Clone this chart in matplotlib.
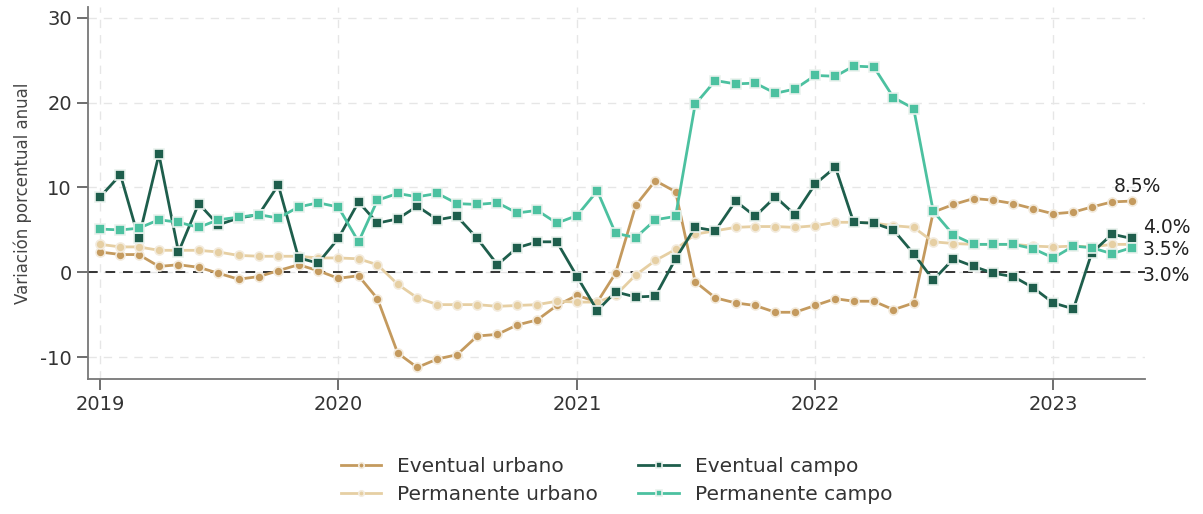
import numpy as np
import pandas as pd
import matplotlib
matplotlib.use("Agg")
import matplotlib.pyplot as plt

# =========================
# DATA (monthly, Jan 2019 - May 2023)
# =========================
fechas = pd.date_range("2019-01-01", "2023-05-01", freq="MS")

eventual_urbano = [
    2.4, 2.1, 2.1, 0.7, 0.9, 0.6, -0.1, -0.8, -0.5, 0.2, 0.9, 0.2,
    -0.7, -0.4, -3.1, -9.5, -11.2, -10.2, -9.7, -7.5, -7.3, -6.2, -5.6, -3.9,
    -2.7, -3.5, -0.1, 7.9, 10.8, 9.5, -1.1, -3.0, -3.6, -3.9, -4.7, -4.7,
    -3.9, -3.1, -3.4, -3.4, -4.4, -3.6, 7.1, 8.0, 8.7, 8.5, 8.1, 7.5,
    6.9, 7.1, 7.7, 8.3, 8.4,
]
permanente_urbano = [
    3.3, 3.0, 3.0, 2.6, 2.6, 2.6, 2.4, 2.0, 1.9, 1.9, 1.9, 1.7,
    1.7, 1.6, 0.9, -1.4, -3.0, -3.8, -3.8, -3.8, -4.0, -3.9, -3.8, -3.4,
    -3.5, -3.5, -2.7, -0.3, 1.4, 2.7, 4.5, 4.9, 5.3, 5.4, 5.4, 5.3,
    5.5, 5.9, 5.9, 5.8, 5.5, 5.3, 3.6, 3.4, 3.3, 3.3, 3.3, 3.1,
    3.0, 3.1, 3.0, 3.3, 3.3,
]
eventual_campo = [
    8.9, 11.5, 4.0, 13.9, 2.4, 8.1, 5.6, 6.4, 6.8, 10.3, 1.7, 1.1,
    4.0, 8.3, 5.8, 6.3, 7.8, 6.2, 6.6, 4.0, 0.9, 2.9, 3.6, 3.6,
    -0.5, -4.5, -2.3, -2.9, -2.8, 1.6, 5.3, 4.9, 8.4, 6.6, 8.9, 6.8,
    10.4, 12.4, 5.9, 5.8, 5.0, 2.2, -0.9, 1.6, 0.7, -0.1, -0.5, -1.8,
    -3.6, -4.3, 2.3, 4.5, 4.0,
]
permanente_campo = [
    5.1, 5.0, 5.2, 6.2, 5.9, 5.3, 6.2, 6.5, 6.8, 6.4, 7.7, 8.2,
    7.7, 3.6, 8.5, 9.3, 8.9, 9.3, 8.1, 8.0, 8.2, 7.0, 7.3, 5.8,
    6.7, 9.6, 4.6, 4.1, 6.2, 6.6, 19.8, 22.6, 22.2, 22.3, 21.1, 21.6,
    23.2, 23.1, 24.3, 24.2, 20.6, 19.3, 7.2, 4.4, 3.3, 3.3, 3.3, 2.8,
    1.7, 3.1, 2.9, 2.2, 2.9,
]

series = ["Eventual urbano", "Permanente urbano", "Eventual campo", "Permanente campo"]
valores = [eventual_urbano, permanente_urbano, eventual_campo, permanente_campo]
colores = ["#C49A5E", "#E6CFA3", "#1E5E4C", "#4CC1A0"]
marcadores = ["o", "o", "s", "s"]

etiquetas_fin = ["8.5%", "4.0%", "3.5%", "3.0%"]

# =========================
# PLOT
# =========================
plt.rcParams["font.family"] = ["DejaVu Sans"]
plt.rcParams["axes.unicode_minus"] = False
fig = plt.figure(figsize=(12.03, 5.14), dpi=100)
ax = fig.add_axes([0.073, 0.262, 0.879, 0.725])

for nombre, y, c, m in zip(series, valores, colores, marcadores):
    ax.plot(fechas, y, color=c, marker=m, markersize=6.5, linewidth=2,
            markeredgecolor="#EAF2EE" if m == "s" else "#F3EBDD",
            markeredgewidth=1.2, label=nombre, zorder=3)

ax.axhline(0, color="#333333", linestyle=(0, (5, 4)), linewidth=1.4, zorder=2)

ax.set_ylim(-12.6, 31.3)
ax.set_xlim(pd.Timestamp("2018-12-13"), pd.Timestamp("2023-05-22"))
ax.set_yticks([-10, 0, 10, 20, 30])
ax.set_xticks(pd.to_datetime(["2019-01-01", "2020-01-01", "2021-01-01",
                              "2022-01-01", "2023-01-01"]))
ax.set_xticklabels(["2019", "2020", "2021", "2022", "2023"])
ax.tick_params(axis="both", labelsize=14, colors="#555555", labelcolor="#333333",
               length=8, width=1.2)
ax.set_ylabel("Variación porcentual anual", fontsize=12, color="#444444", labelpad=6)

ax.grid(True, color="#E6E6E6", linestyle=(0, (6, 5)), linewidth=1)
ax.set_axisbelow(True)
for s in ["top", "right"]:
    ax.spines[s].set_visible(False)
for s in ["left", "bottom"]:
    ax.spines[s].set_color("#777777")
    ax.spines[s].set_linewidth(1.3)

# end labels
pos_x = [pd.Timestamp("2023-04-03"), pd.Timestamp("2023-05-18"),
         pd.Timestamp("2023-05-18"), pd.Timestamp("2023-05-18")]
pos_y = [10.1, 5.3, 2.7, -0.35]
for t, px, py in zip(etiquetas_fin, pos_x, pos_y):
    ax.text(px, py, t, fontsize=13.5, color="#222222", va="center", ha="left",
            clip_on=False)

ax.legend(loc="upper center", bbox_to_anchor=(0.5, -0.16), ncol=2, frameon=False,
          fontsize=14.5, handlelength=2.0, markerscale=0.6, columnspacing=2.0,
          labelspacing=0.45, labelcolor="#333333")

fig.savefig("out.png", dpi=100)
